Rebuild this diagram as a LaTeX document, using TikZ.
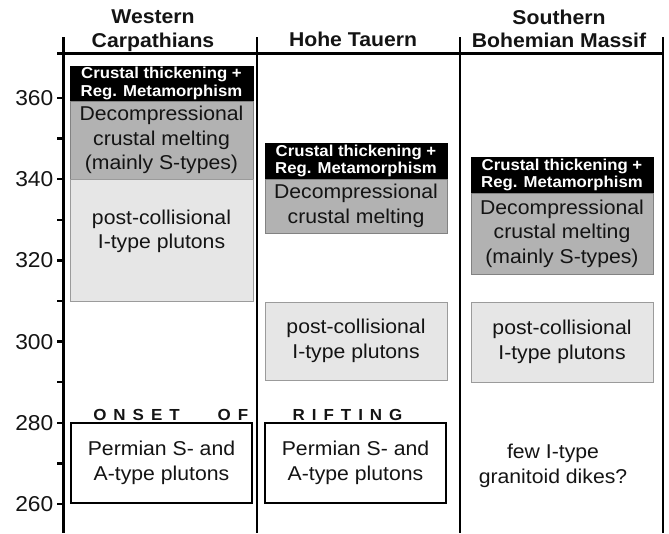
\documentclass[tikz,border=0pt]{standalone}
\usepackage{fontspec}
\setmainfont{Liberation Sans}[FakeStretch=1.06]
\definecolor{dgray}{RGB}{178,178,178}
\definecolor{lgray}{RGB}{230,230,230}
\definecolor{bgray}{RGB}{130,130,130}
\definecolor{txt}{RGB}{20,20,20}
\newcommand{\lsp}{\hspace{7pt}}
\begin{document}
\begin{tikzpicture}[x=1pt,y=-1pt,
  hdr/.style={font=\fontsize{20}{23}\selectfont\bfseries, text=txt, inner sep=0, anchor=base},
  axlab/.style={font=\fontsize{21.5}{24}\selectfont, text=txt, inner sep=0, anchor=east},
  colline/.style={line width=2.5pt, black},
  blkbox/.style={draw=black, fill=black, text=white, inner sep=0, align=center,
    font=\fontsize{15.8}{17.5}\selectfont\bfseries},
  dgbox/.style={draw=bgray, line width=0.8pt, fill=dgray, text=txt, inner sep=0, align=center,
    font=\fontsize{20}{24.5}\selectfont},
  lgbox/.style={draw=bgray!80, line width=0.8pt, fill=lgray, text=txt, inner sep=0, align=center,
    font=\fontsize{20}{24.5}\selectfont},
  pbox/.style={draw=black, line width=2.6pt, fill=white, text=txt, inner sep=0, align=center,
    font=\fontsize{20}{24.5}\selectfont},
  plain/.style={text=txt, inner sep=0, align=center, font=\fontsize{20}{24.5}\selectfont},
  rift/.style={text=txt, inner sep=0, anchor=base, font=\fontsize{16}{18}\selectfont\bfseries}
]
\useasboundingbox (0,0) rectangle (669,533);

% frame lines
\coordinate (a0) at (63,37);  \coordinate (a1) at (63,533);
\coordinate (b0) at (257,37); \coordinate (b1) at (257,533);
\coordinate (c0) at (460,37); \coordinate (c1) at (460,533);
\coordinate (d0) at (663,37); \coordinate (d1) at (663,533);
\coordinate (h0) at (57,53.5); \coordinate (h1) at (664,53.5);
\draw[line width=3pt] (a0) -- (a1);
\draw[colline] (b0) -- (b1);
\draw[colline] (c0) -- (c1);
\draw[colline] (d0) -- (d1);
\draw[line width=2.4pt] (h0) -- (h1);

% axis ticks and labels
\foreach \t in {260,270,...,360} {
  \draw[line width=2.4pt] (57,{98+(360-\t)*4.06}) -- (63,{98+(360-\t)*4.06});
}
\foreach \t in {260,280,...,360} {
  \node[axlab] (lab\t) at (53.5,{98+(360-\t)*4.06}) {\t};
}

% headers
\node[hdr] (hwc1) at (153,23.5) {Western};
\node[hdr] (hwc2) at (153,47) {Carpathians};
\node[hdr] (hht)  at (353,46) {Hohe Tauern};
\node[hdr] (hsb1) at (559,24.5) {Southern};
\node[hdr] (hsb2) at (559,47.5) {Bohemian Massif};

% Western Carpathians
\node[blkbox, minimum width=183pt, minimum height=35pt] (wcb) at (161.5,83.5)
  {Crustal thickening +\\Reg. Metamorphism};
\node[dgbox, minimum width=183pt, minimum height=78pt] (wcd) at (161.5,140)
  {Decompressional\\crustal melting\\(mainly S-types)};
\node[lgbox, minimum width=183pt, minimum height=122pt] (wcl) at (161.5,240) {};
\node[plain] (wclt) at (161.5,231.5) {post-collisional\\I-type plutons};
\node[pbox, minimum width=181pt, minimum height=80pt] (wcp) at (161.5,463)
  {Permian S- and\\A-type plutons};

% Hohe Tauern
\node[blkbox, minimum width=182pt, minimum height=36pt] (htb) at (356,161)
  {Crustal thickening +\\Reg. Metamorphism};
\node[dgbox, minimum width=182pt, minimum height=54pt] (htd) at (356,206)
  {Decompressional\\crustal melting};
\node[lgbox, minimum width=182pt, minimum height=78pt] (htl) at (356,341)
  {post-collisional\\I-type plutons};
\node[pbox, minimum width=181pt, minimum height=80pt] (htp) at (355.5,463)
  {Permian S- and\\A-type plutons};

% Southern Bohemian Massif
\node[blkbox, minimum width=182pt, minimum height=36pt] (sbb) at (562,175)
  {Crustal thickening +\\Reg. Metamorphism};
\node[dgbox, minimum width=182pt, minimum height=81pt] (sbd) at (562,233.5)
  {Decompressional\\crustal melting\\(mainly S-types)};
\node[lgbox, minimum width=182pt, minimum height=80pt] (sbl) at (562,342)
  {post-collisional\\I-type plutons};
\node[plain] (sbf) at (553,466) {few I-type\\granitoid dikes?};

% onset of rifting
\node[rift] (r1) at (136.5,420.5) {O\lsp N\lsp S\lsp E\lsp T};
\node[rift] (r2) at (233,420.5) {O\lsp F};
\node[rift] (r3) at (347.5,420.5) {R\lsp I\lsp F\lsp T\lsp I\lsp N\lsp G};
\end{tikzpicture}
\end{document}
